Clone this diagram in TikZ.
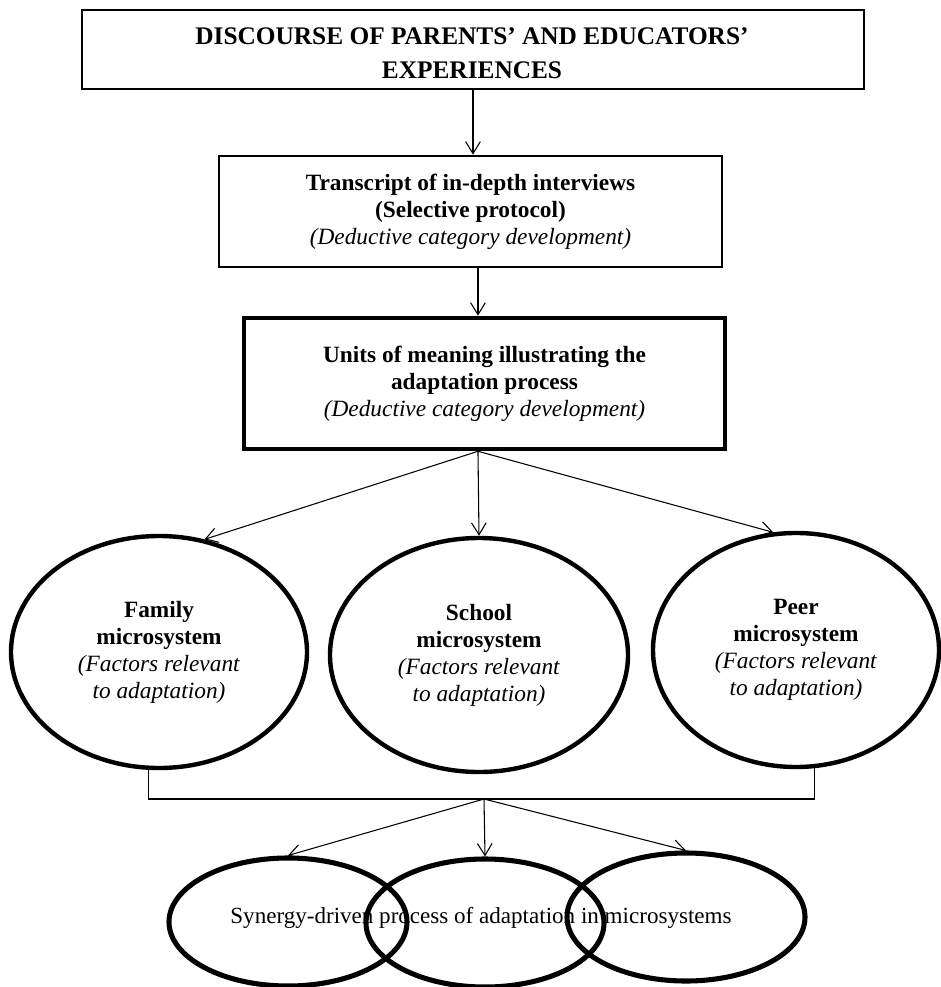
\documentclass[tikz,border=0pt]{standalone}
\usepackage{fontspec}
\setmainfont{Liberation Serif}
\usetikzlibrary{shapes.geometric,arrows.meta}

\begin{document}
\begin{tikzpicture}[x=0.75pt,y=-0.75pt,
  >={Straight Barb[length=9pt,width=11pt]},
  box/.style={draw, line width=2pt, align=center, inner sep=0pt},
  micro/.style={draw, ellipse, line width=3.3pt, align=center, inner sep=0pt},
  syn/.style={draw, ellipse, line width=3.8pt, minimum width=178.5pt, minimum height=96pt},
  txt/.style={font=\fontsize{17.5}{20.3}\selectfont},
  link/.style={->, line width=0.8pt}]
\useasboundingbox (0,0) rectangle (940,987);
% boxes
\node[box, font=\fontsize{19}{25.5}\selectfont\bfseries, minimum width=586.5pt, minimum height=59.25pt] (title) at (473,49.5) {};
\node[font=\fontsize{19}{25.5}\selectfont\bfseries, align=center] (titletext) at (472,53) {DISCOURSE OF PARENTS’ AND EDUCATORS’\\ EXPERIENCES};
\node[box, txt, minimum width=377.25pt, minimum height=83.25pt] (transcript) at (470.5,211.5) {\textbf{Transcript of in-depth interviews}\\ \textbf{(Selective protocol)}\\ \textit{(Deductive category development)}};
\node[box, txt, line width=3.4pt, minimum width=360.75pt, minimum height=98.25pt] (units) at (484.5,383.5) {\textbf{Units of meaning illustrating the}\\ \textbf{adaptation process}\\ \textit{(Deductive category development)}};
% microsystems
\node[micro, txt, minimum width=222pt, minimum height=174pt] (family) at (159,652) {\textbf{Family}\\ \textbf{microsystem}\\ \textit{(Factors relevant}\\ \textit{to adaptation)}};
\node[micro, txt, minimum width=223.5pt, minimum height=175.5pt] (school) at (479,655) {\textbf{School}\\ \textbf{microsystem}\\ \textit{(Factors relevant}\\ \textit{to adaptation)}};
\node[micro, txt, minimum width=214.5pt, minimum height=175.5pt] (peer) at (796,650) {\textbf{Peer}\\ \textbf{microsystem}\\ \textit{(Factors relevant}\\ \textit{to adaptation)}};
% synergy
\node[syn] (synA) at (288,922) {};
\node[syn] (synB) at (485,923) {};
\node[syn] (synC) at (686,917) {};
\node[font=\fontsize{17.3}{20}\selectfont] (synergy) at (481,918) {Synergy-driven process of adaptation in microsystems};
% connectors
\coordinate (fan) at ([xshift=-4.9pt]units.south);
\coordinate (join) at (484,799);
\draw[link] (title.south) -- (title.south |- transcript.north);
\draw[link] (fan |- transcript.south) -- (fan |- units.north);
\draw[link] (fan) -- (family.68);
\draw[link] (fan) -- (school.north);
\draw[link] (fan) -- (peer.101);
\draw[line width=0.8pt] (family.265) |- (join) -| (peer.279);
\draw[link] (join) -- (synA.north);
\draw[link] (join) -- (synB.north);
\draw[link] (join) -- (synC.north);
\end{tikzpicture}
\end{document}
